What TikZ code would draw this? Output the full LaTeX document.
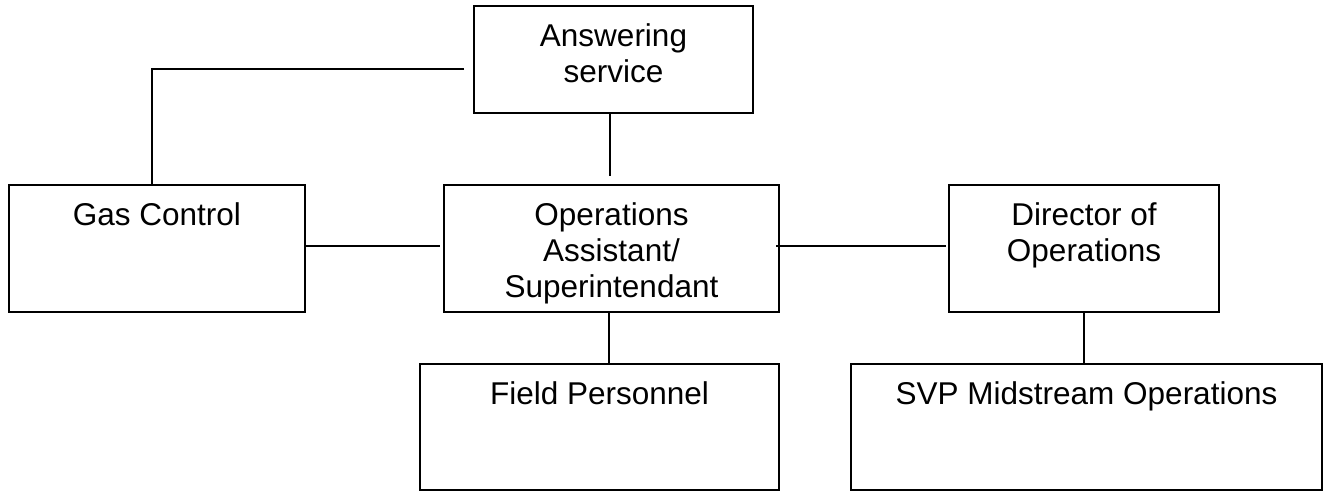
\documentclass[tikz,border=0pt]{standalone}
\usepackage{fontspec}
\setmainfont{Liberation Sans}
\usetikzlibrary{calc}
\begin{document}
\begin{tikzpicture}[x=1pt,y=-1pt,
  box/.style={draw=black, line width=1.7pt, rectangle, inner sep=0pt},
  lbl/.style={anchor=north, inner sep=0pt, align=center, font=\fontsize{31.5}{36}\selectfont},
  conn/.style={draw=black, line width=1.7pt}]
\useasboundingbox (0,0) rectangle (1324,491);
% boxes
\node[box, minimum width=279pt, minimum height=107pt] (ans) at (613.5,59.5) {};
\node[box, minimum width=296pt, minimum height=127pt] (gas) at (157,248.5) {};
\node[box, minimum width=335pt, minimum height=127pt] (ops) at (611.5,248.5) {};
\node[box, minimum width=270pt, minimum height=127pt] (dir) at (1084,248.5) {};
\node[box, minimum width=359pt, minimum height=126pt] (field) at (599.5,427) {};
\node[box, minimum width=471pt, minimum height=126pt] (svp) at (1086.5,427) {};
% labels
\node[lbl] (ansT) at ($(ans.north)+(0,18)$) {Answering\\service};
\node[lbl] (gasT) at ($(gas.north)+(0,18)$) {Gas Control};
\node[lbl] (opsT) at ($(ops.north)+(0,18)$) {Operations\\Assistant/\\Superintendant};
\node[lbl] (dirT) at ($(dir.north)+(0,18)$) {Director of\\Operations};
\node[lbl] (fieldT) at ($(field.north)+(0,18)$) {Field Personnel};
\node[lbl] (svpT) at ($(svp.north)+(0,18)$) {SVP Midstream Operations};
% connector end points
\coordinate (a1) at (464,69);
\coordinate (a2) at (152,69);
\coordinate (a3) at (610,176);
\coordinate (g1) at (440,246);
\coordinate (o1) at (776,246);
\coordinate (d1) at (946,246);
% connectors
\draw[conn] (a1) -- (a2) -- (a2 |- gas.north);
\draw[conn] (ans.south -| a3) -- (a3);
\draw[conn] (gas.east |- g1) -- (g1);
\draw[conn] (o1) -- (d1);
\draw[conn] (ops.south -| 609,0) -- (field.north -| 609,0);
\draw[conn] (dir.south) -- (dir.south |- svp.north);
\end{tikzpicture}
\end{document}
